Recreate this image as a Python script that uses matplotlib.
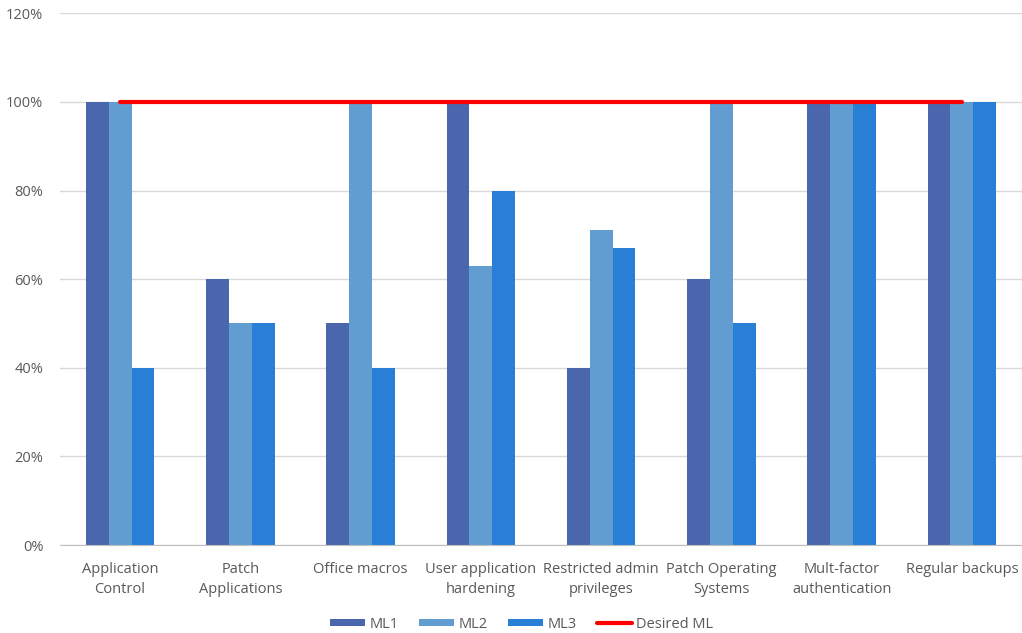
import numpy as np
import matplotlib.pyplot as plt
from matplotlib.ticker import FuncFormatter

# ---- Data ----
categories = ["Application\nControl", "Patch\nApplications", "Office macros",
              "User application\nhardening", "Restricted admin\nprivileges",
              "Patch Operating\nSystems", "Mult-factor\nauthentication", "Regular backups"]
ml1 = [100, 60, 50, 100, 40, 60, 100, 100]
ml2 = [100, 50, 100, 63, 71, 100, 100, 100]
ml3 = [40, 50, 40, 80, 67, 50, 100, 100]
desired = [100, 100, 100, 100, 100, 100, 100, 100]

plt.rcParams["font.family"] = ["Open Sans", "DejaVu Sans"]

fig = plt.figure(figsize=(10.22, 6.33), dpi=100)
ax = fig.add_axes([0.0587, 0.139, 0.9413, 0.840])

x = np.arange(len(categories))
w = 0.19
b1 = ax.bar(x - w, ml1, w, color="#4a66ac", label="ML1", zorder=2)
b2 = ax.bar(x, ml2, w, color="#629dd1", label="ML2", zorder=2)
b3 = ax.bar(x + w, ml3, w, color="#297fd5", label="ML3", zorder=2)
ln, = ax.plot(x, desired, color="#ff0000", lw=3, label="Desired ML", zorder=3,
              solid_capstyle="round")

ax.set_xlim(-0.5, len(categories) - 0.5)
ax.set_ylim(0, 120)
ax.set_yticks(range(0, 121, 20))
ax.yaxis.set_major_formatter(FuncFormatter(lambda v, p: f"{v:.0f}%"))
ax.set_xticks(x, categories)
for t in ax.get_xticklabels():
    t.set_linespacing(1.45)
ax.grid(True, axis="y", color="#d9d9d9", lw=1, zorder=0)
for s in ["top", "right", "left"]:
    ax.spines[s].set_visible(False)
ax.spines["bottom"].set_color("#bfbfbf")
ax.tick_params(length=0, colors="#595959", labelsize=10.5)
ax.tick_params(axis="x", pad=12)
ax.tick_params(axis="y", pad=12)

ax.legend([b1, b2, b3, ln], ["ML1", "ML2", "ML3", "Desired ML"],
          loc="upper center", bbox_to_anchor=(0.48, -0.11), ncol=4, frameon=False,
          fontsize=10.5, labelcolor="#595959", handlelength=2.4, handleheight=0.45,
          columnspacing=1.4, handletextpad=0.3)

fig.savefig("out.png", dpi=100)
